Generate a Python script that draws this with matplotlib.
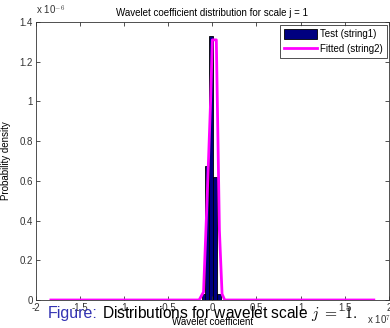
#!/usr/bin/env python3
"""Wavelet coefficient histogram vs fitted density, scale j = 1."""
import matplotlib
matplotlib.use("Agg")
import matplotlib.pyplot as plt

# histogram of test coefficients (x in units of 1e7, density in units of 1e-6)
bin_centers = [-0.10, -0.056, -0.011, 0.034, 0.075]
bin_heights = [0.03, 0.675, 1.33, 0.62, 0.03]
bin_width = 0.045

# fitted density curve
fit_x = [-1.83, -0.8, -0.15, -0.10, -0.06, -0.02, 0.0, 0.045, 0.06, 0.08, 0.11, 0.14, 0.8, 1.83]
fit_y = [0.0, 0.0, 0.0, 0.04, 0.5, 1.0, 1.31, 1.31, 0.9, 0.35, 0.03, 0.0, 0.0, 0.0]

xticks = [-2, -1.5, -1, -0.5, 0, 0.5, 1, 1.5, 2]
xticklabels = ["-2", "-1.5", "-1", "-0.5", "0", "0.5", "1", "1.5", "2"]
yticks = [0, 0.2, 0.4, 0.6, 0.8, 1.0, 1.2, 1.4]
yticklabels = ["0", "0.2", "0.4", "0.6", "0.8", "1", "1.2", "1.4"]

plt.rcParams["font.family"] = ["Liberation Sans", "DejaVu Sans"]
plt.rcParams["mathtext.fontset"] = "cm"
fig = plt.figure(figsize=(3.9, 3.28), dpi=100)
ax = fig.add_axes([0.092, 0.0854, 0.905, 0.8476])

bars = ax.bar(bin_centers, bin_heights, width=bin_width, color="#000080",
              edgecolor="black", linewidth=0.6, label="Test (string1)")
line, = ax.plot(fit_x, fit_y, color="#ff00ff", linewidth=2, label="Fitted (string2)")

ax.set_xlim(-2, 2)
ax.set_ylim(0, 1.4)
ax.set_xticks(xticks)
ax.set_xticklabels(xticklabels)
ax.set_yticks(yticks)
ax.set_yticklabels(yticklabels)
ax.tick_params(direction="in", length=3, width=0.6, labelsize=7,
               colors="#333333", top=True, right=True, pad=2)
for s in ax.spines.values():
    s.set_linewidth(0.6)
    s.set_color("#333333")

ax.set_title("Wavelet coefficient distribution for scale j = 1", fontsize=7, pad=4)
ax.set_ylabel("Probability density", fontsize=7, labelpad=6)
ax.set_xlabel("Wavelet coefficient", fontsize=7, labelpad=3)

fig.text(0.092, 0.948, r"x 10$^{-6}$", fontsize=7, color="#333333", va="bottom", ha="left")
fig.text(0.94, 0.004, r"x 10$^{7}$", fontsize=7, color="#333333", va="bottom", ha="left")

leg = ax.legend([bars, line], ["Test (string1)", "Fitted (string2)"],
                loc="upper right", fontsize=7, frameon=True, fancybox=False,
                bbox_to_anchor=(0.995, 0.99), borderaxespad=0.0, handlelength=3.4,
                handleheight=1.2, handletextpad=0.3, borderpad=0.45, labelspacing=0.45)
leg.get_frame().set_edgecolor("black")
leg.get_frame().set_linewidth(0.6)

# overlaid slide caption
fig.text(0.123, 0.031, "Figure:", fontsize=11.5, color="#3333b3", va="baseline")
fig.text(0.2615, 0.031, r"Distributions for wavelet scale $j\ =\ 1.$", fontsize=11.2,
         color="black", va="baseline")

fig.savefig("out.png", dpi=100)
